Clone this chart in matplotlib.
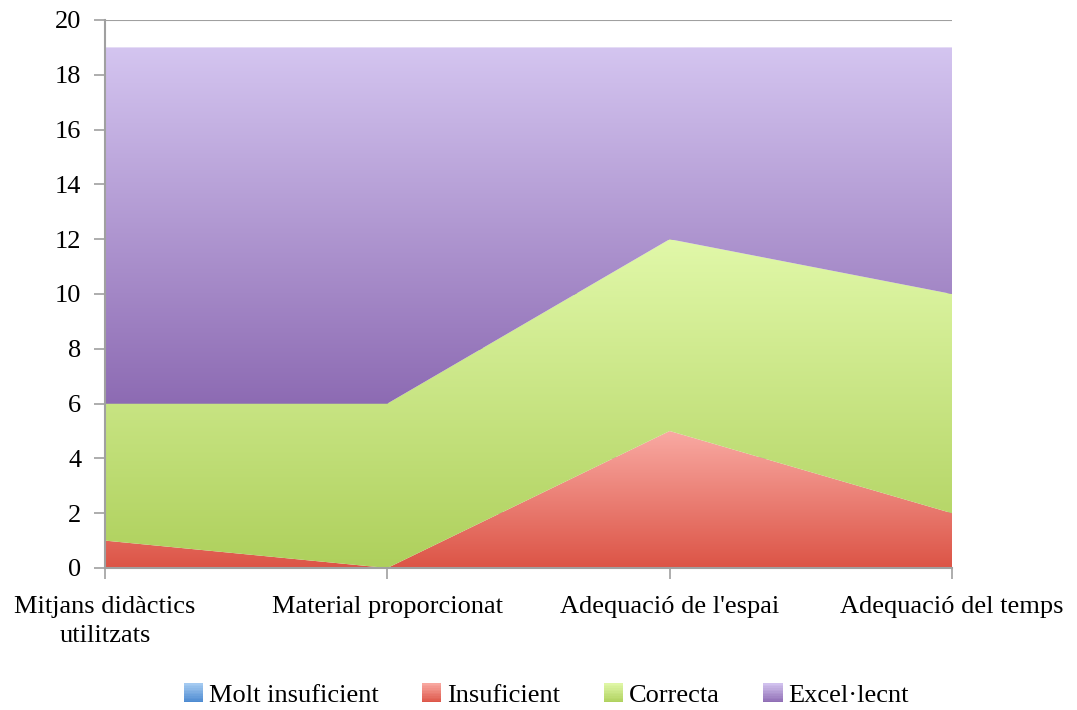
import numpy as np
import matplotlib
matplotlib.use("Agg")
import matplotlib.pyplot as plt
from matplotlib.colors import LinearSegmentedColormap
from matplotlib.patches import Patch, Rectangle
from matplotlib.legend_handler import HandlerBase

categories = ["Mitjans didàctics\nutilitzats", "Material proporcionat",
              "Adequació de l'espai", "Adequació del temps"]
series_names = ["Molt insuficient", "Insuficient", "Correcta", "Excel·lecnt"]
molt_insuficient = [0, 0, 0, 0]
insuficient = [1, 0, 5, 2]
correcta = [5, 6, 7, 8]
excellent = [13, 13, 7, 9]
yticks = list(range(0, 21, 2))

# gradient colours (top, bottom)
grads = [("#a8cdf2", "#4a88d0"),
         ("#f9aaa3", "#dc5446"),
         ("#e1f8a9", "#aed05c"),
         ("#d4c5f0", "#8d6bb3")]

FS = 19
plt.rcParams['font.family'] = ['Liberation Serif', 'DejaVu Serif']
fig = plt.figure(figsize=(10.77, 7.10), dpi=100)
ax = fig.add_axes([105/1077, 1-568/710, (952-105)/1077, (568-20)/710])

x = np.arange(len(categories))
data = [molt_insuficient, insuficient, correcta, excellent]
lower = np.zeros(len(categories))
for i, vals in enumerate(data):
    upper = lower + np.array(vals, dtype=float)
    if np.any(upper > lower):
        poly = ax.fill_between(x, lower, upper, facecolor='none', edgecolor='none', zorder=2)
        ymin, ymax = lower.min(), upper.max()
        cmap = LinearSegmentedColormap.from_list("g%d" % i, [grads[i][1], grads[i][0]])
        grad = np.linspace(0, 1, 256).reshape(-1, 1)
        im = ax.imshow(grad, extent=[x[0], x[-1], ymin, ymax], origin='lower',
                       aspect='auto', cmap=cmap, zorder=2, interpolation='bilinear')
        path = poly.get_paths()[0]
        im.set_clip_path(path, transform=ax.transData)
    lower = upper

ax.set_xlim(x[0], x[-1])
ax.set_ylim(0, 20)
ax.set_yticks(yticks)
ax.set_xticks(x)
ax.set_xticklabels(categories, fontsize=FS, linespacing=1.4)
ax.tick_params(axis='y', labelsize=FS, length=8, width=1.2, color='#a0a0a0', pad=9)
ax.tick_params(axis='x', length=8, width=1.2, color='#a0a0a0', pad=12)
ax.yaxis.grid(True, color='#a0a0a0', linewidth=1.5, zorder=1)
ax.set_axisbelow(True)
for s in ['top', 'right']:
    ax.spines[s].set_visible(False)
for s in ['left', 'bottom']:
    ax.spines[s].set_color('#a0a0a0')
    ax.spines[s].set_linewidth(1.5)
    ax.spines[s].set_zorder(3)


class GradHandler(HandlerBase):
    def __init__(self, top, bottom):
        super().__init__()
        self.top, self.bottom = top, bottom

    def create_artists(self, legend, orig_handle, xdescent, ydescent, width, height, fontsize, trans):
        cmap = LinearSegmentedColormap.from_list("lg", [self.bottom, self.top])
        n = 12
        side = min(width, height)
        x0 = -xdescent + (width - side) / 2
        y0 = -ydescent + (height - side) / 2
        arts = []
        for k in range(n):
            r = Rectangle((x0, y0 + side * k / n), side, side / n + 0.3,
                          facecolor=cmap((k + 0.5) / n), edgecolor='none', transform=trans)
            arts.append(r)
        return arts


handles = [Patch(facecolor=grads[i][1], edgecolor='none', label=series_names[i]) for i in range(4)]
hmap = {handles[i]: GradHandler(grads[i][0], grads[i][1]) for i in range(4)}
fig.legend(handles=handles, handler_map=hmap, loc='center', bbox_to_anchor=(546/1077, 1-695/710), ncol=4,
           frameon=False, fontsize=FS, handlelength=0.75, handleheight=0.75,
           handletextpad=0.2, columnspacing=1.65)

fig.savefig("out.png", dpi=100)
